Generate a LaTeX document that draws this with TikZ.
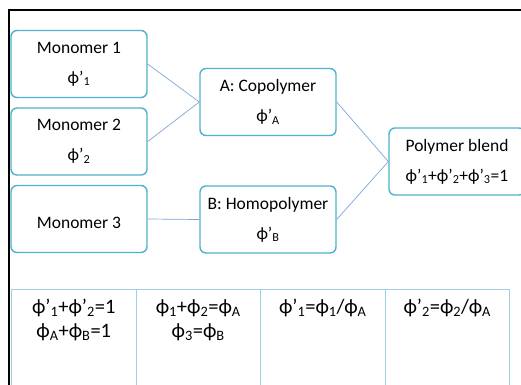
\documentclass[tikz,border=0pt]{standalone}
\usepackage{fontspec}
\setmainfont{Carlito}
\definecolor{boxline}{HTML}{4FB3CC}
\definecolor{linkline}{HTML}{7FA6D2}
\definecolor{gridline}{HTML}{9DD0E0}
\newcommand{\ph}{ϕ}
\newcommand{\pp}{ϕ’}
\newcommand{\sbs}[1]{\textsubscript{#1}}
\begin{document}
\begin{tikzpicture}[x=1pt,y=-1pt,
  flowbox/.style={draw=boxline,line width=1.4pt,rounded corners=6pt,fill=white,
    minimum width=136pt,minimum height=67pt,align=center,inner sep=0pt,
    font=\fontsize{17.5}{30}\selectfont,
    execute at begin node={\rule{0pt}{19pt}}},
  link/.style={draw=linkline,line width=0.7pt},
  cell/.style={draw=gridline,line width=1pt,minimum width=124.5pt,minimum height=100pt,
    inner sep=0pt,anchor=north west},
  celltext/.style={align=center,anchor=north,inner sep=0pt,
    font=\fontsize{20.5}{24}\selectfont}]
  \useasboundingbox (0,0) rectangle (521,384);
  \clip (0,0) rectangle (521,384);
  \fill[white] (0,0) rectangle (521,384);

  % outer frame (top and left edges)
  \draw[black,line width=1.8pt] (9,400) -- (9,10) -- (530,10);

  % flow boxes
  \node[flowbox] (m1) at (79,64)  {Monomer 1\\\pp\sbs{1}};
  \node[flowbox] (m2) at (79,141.5) {Monomer 2\\\pp\sbs{2}};
  \node[flowbox] (m3) at (79,219) {Monomer 3};
  \node[flowbox] (a)  at (268,102) {A: Copolymer\\\pp\sbs{A}};
  \node[flowbox] (b)  at (268,219.5) {B: Homopolymer\\\pp\sbs{B}};
  \node[flowbox] (pb) at (457,161.5) {Polymer blend\\\pp\sbs{1}+\pp\sbs{2}+\pp\sbs{3}=1};

  % connectors
  \draw[link] (m1.east) -- (a.west);
  \draw[link] (m2.east) -- (a.west);
  \draw[link] (m3.east) -- (b.west);
  \draw[link] (a.east) -- (pb.west);
  \draw[link] (b.east) -- (pb.west);

  % relation table
  \node[cell] (c1) at (11,289) {};
  \node[cell] (c2) at (135.5,289) {};
  \node[cell] (c3) at (260,289) {};
  \node[cell] (c4) at (384.5,289) {};
  \node[celltext] (t1) at ([yshift=-10pt]c1.north) {\pp\sbs{1}+\pp\sbs{2}=1\\\ph\sbs{A}+\ph\sbs{B}=1};
  \node[celltext] (t2) at ([yshift=-10pt]c2.north) {\ph\sbs{1}+\ph\sbs{2}=\ph\sbs{A}\\\ph\sbs{3}=\ph\sbs{B}};
  \node[celltext] (t3) at ([yshift=-10pt]c3.north) {\pp\sbs{1}=\ph\sbs{1}/\ph\sbs{A}};
  \node[celltext] (t4) at ([yshift=-10pt]c4.north) {\pp\sbs{2}=\ph\sbs{2}/\ph\sbs{A}};
\end{tikzpicture}
\end{document}
